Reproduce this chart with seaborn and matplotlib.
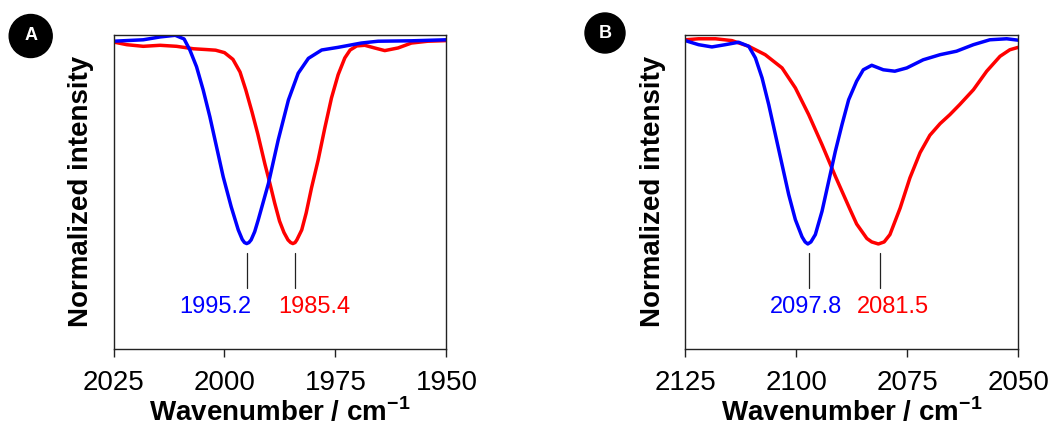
import matplotlib
matplotlib.use("Agg")
import matplotlib.pyplot as plt
from matplotlib.patches import Circle
import seaborn as sns
import pandas as pd

# Panel A: 1950-2025 cm-1
a_blue_wn = [2025.0, 2018.3, 2014.5, 2011.1, 2009.1, 2007.8, 2006.3, 2004.8, 2003.3, 2001.8,
             2000.3, 1998.5, 1996.9, 1996.0, 1995.5, 1995.0, 1994.5, 1994.0, 1993.2, 1992.4,
             1990.1, 1987.9, 1985.6, 1983.4, 1981.1, 1978.1, 1974.4, 1969.2, 1965.4, 1957.9, 1950.1]
a_blue_int = [0.994, 1.001, 1.015, 1.023, 1.005, 0.951, 0.869, 0.755, 0.624, 0.477,
              0.330, 0.183, 0.069, 0.022, 0.007, 0.002, 0.007, 0.020, 0.060, 0.118,
              0.297, 0.510, 0.706, 0.837, 0.910, 0.951, 0.964, 0.985, 0.994, 0.996, 1.001]

a_red_wn = [2025.0, 2022.0, 2018.3, 2014.5, 2010.8, 2007.0, 2004.0, 2002.0, 2000.0, 1998.1,
            1996.5, 1995.2, 1993.8, 1992.5, 1990.9, 1989.8, 1988.7, 1987.6, 1986.6, 1985.7,
            1985.1, 1984.6, 1984.1, 1983.7, 1982.6, 1981.6, 1980.4, 1978.9, 1977.4, 1975.9,
            1974.4, 1972.9, 1971.7, 1970.2, 1968.4, 1966.2, 1963.9, 1960.9, 1957.9, 1954.2, 1950.0]
a_red_int = [0.990, 0.977, 0.969, 0.974, 0.969, 0.957, 0.953, 0.950, 0.938, 0.905,
             0.843, 0.755, 0.647, 0.539, 0.392, 0.299, 0.201, 0.112, 0.056, 0.020,
             0.007, 0.002, 0.007, 0.020, 0.069, 0.152, 0.275, 0.412, 0.569, 0.716,
             0.830, 0.912, 0.951, 0.971, 0.974, 0.961, 0.948, 0.961, 0.985, 0.994, 0.997]

# Panel B: 2050-2125 cm-1
b_blue_wn = [2125.0, 2122.0, 2119.0, 2116.0, 2113.0, 2110.7, 2109.2, 2107.7, 2106.2, 2104.7,
             2103.2, 2101.7, 2100.2, 2098.7, 2098.0, 2097.4, 2096.7, 2095.7, 2094.2, 2092.7,
             2091.2, 2089.7, 2088.2, 2086.4, 2084.9, 2083.0, 2080.4, 2077.8, 2075.1, 2071.4,
             2067.6, 2063.9, 2060.1, 2056.4, 2052.6, 2050.0]
b_blue_int = [0.997, 0.977, 0.966, 0.977, 0.989, 0.969, 0.912, 0.814, 0.683, 0.536,
              0.389, 0.242, 0.119, 0.035, 0.010, 0.000, 0.010, 0.046, 0.160, 0.307,
              0.454, 0.585, 0.707, 0.798, 0.854, 0.876, 0.854, 0.847, 0.863, 0.903,
              0.928, 0.945, 0.977, 1.001, 1.006, 0.999]

b_red_wn = [2125.0, 2122.0, 2118.2, 2114.5, 2110.7, 2107.0, 2103.2, 2100.2, 2097.2, 2094.2,
            2091.2, 2087.9, 2086.4, 2084.1, 2083.0, 2081.5, 2080.2, 2078.9, 2076.6, 2074.4,
            2072.1, 2069.9, 2067.6, 2065.4, 2063.2, 2060.1, 2057.1, 2054.1, 2051.9, 2050.0]
b_red_int = [1.001, 1.006, 1.006, 0.997, 0.969, 0.928, 0.863, 0.765, 0.634, 0.487,
             0.332, 0.170, 0.098, 0.027, 0.010, 0.000, 0.010, 0.046, 0.176, 0.324,
             0.448, 0.533, 0.590, 0.634, 0.683, 0.756, 0.847, 0.920, 0.952, 0.964]

# peak labels
a_peak_labels = ["1995.2", "1985.4"]
a_peak_marks = [1995.0, 1984.1]
a_label_pos = [2002.1, 1979.8]
b_peak_labels = ["2097.8", "2081.5"]
b_peak_marks = [2097.1, 2081.1]
b_label_pos = [2097.8, 2078.3]

a_ticks = [2025, 2000, 1975, 1950]
b_ticks = [2125, 2100, 2075, 2050]

sns.set_theme(style="ticks")
plt.rcParams['font.family'] = ['Liberation Sans', 'DejaVu Sans']
plt.rcParams['mathtext.fontset'] = 'custom'
plt.rcParams['mathtext.rm'] = 'Liberation Sans'
plt.rcParams['mathtext.bf'] = 'Liberation Sans:bold'
plt.rcParams['text.color'] = 'black'
plt.rcParams['axes.labelcolor'] = 'black'
plt.rcParams['xtick.color'] = '#222222'
plt.rcParams['xtick.labelcolor'] = 'black'

fig = plt.figure(figsize=(10.52, 4.32), dpi=100)
ax_a = fig.add_axes([0.1079, 0.1921, 0.3165, 0.7276])
ax_b = fig.add_axes([0.6514, 0.1921, 0.3165, 0.7276])

panels = [
    (ax_a, a_blue_wn, a_blue_int, a_red_wn, a_red_int, a_peak_labels, a_peak_marks, a_label_pos, a_ticks),
    (ax_b, b_blue_wn, b_blue_int, b_red_wn, b_red_int, b_peak_labels, b_peak_marks, b_label_pos, b_ticks),
]

for ax, bw, bi, rw, ri, labels, marks, lpos, ticks in panels:
    df_b = pd.DataFrame({'wn': bw, 'intensity': bi})
    df_r = pd.DataFrame({'wn': rw, 'intensity': ri})
    sns.lineplot(data=df_r, x='wn', y='intensity', ax=ax, color='#ff0000', lw=2.5,
                 estimator=None, solid_joinstyle='round', solid_capstyle='round')
    sns.lineplot(data=df_b, x='wn', y='intensity', ax=ax, color='#0000ff', lw=2.5,
                 estimator=None, solid_joinstyle='round', solid_capstyle='round')

    ax.set_xlim(ticks[0], ticks[-1])
    ax.set_ylim(-0.515, 1.026)
    ax.set_xticks(ticks)
    ax.set_yticks([])
    ax.tick_params(axis='x', direction='out', length=6, width=1.0, labelsize=20, pad=9)
    for sp in ax.spines.values():
        sp.set_linewidth(1.0)
        sp.set_color('#222222')

    colors = ['#0000ff', '#ff0000']
    for m, lab, p, c in zip(marks, labels, lpos, colors):
        ax.plot([m, m], [-0.043, -0.217], color='#222222', lw=0.9)
        ax.text(p, -0.31, lab, color=c, fontsize=17, ha='center', va='center')

    ax.set_xlabel('Wavenumber / cm$^{\\mathbf{-1}}$', fontsize=20, fontweight='bold', labelpad=1)
    ax.set_ylabel('Normalized intensity', fontsize=20, fontweight='bold', labelpad=14)

# panel badges
for cx, cy, r, letter in [(0.307, 4.32 - 0.36, 0.215, 'A'), (6.05, 4.32 - 0.33, 0.20, 'B')]:
    fig.add_artist(Circle((cx, cy), r, transform=fig.dpi_scale_trans, color='black'))
    fig.text(cx / 10.52, cy / 4.32, letter, color='white', fontsize=13, fontweight='bold',
             ha='center', va='center')

fig.savefig('out.png', dpi=100)
